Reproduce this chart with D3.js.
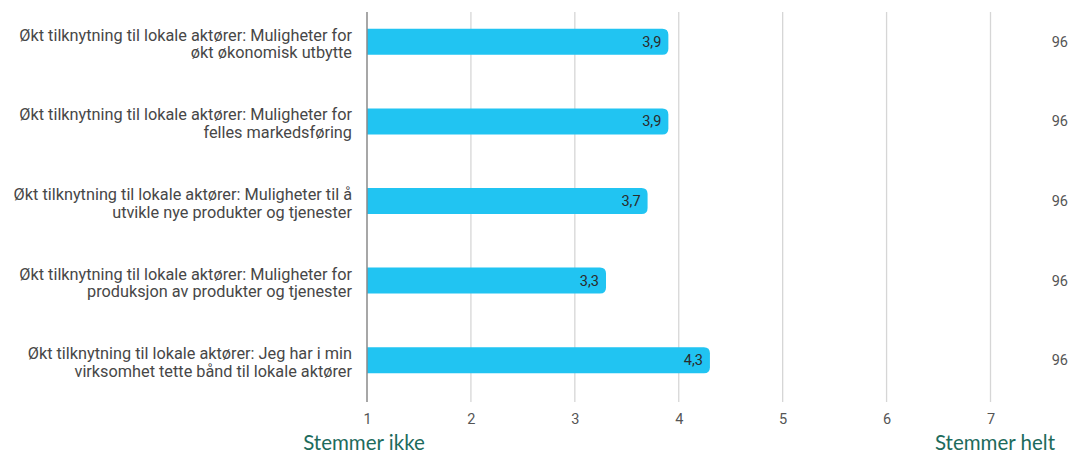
<!DOCTYPE html>
<html>
<head>
<meta charset="utf-8">
<script src="https://cdn.jsdelivr.net/npm/d3@7"></script>
<style>
  html, body { margin: 0; padding: 0; background: #fff; }
  svg { display: block; font-family: Roboto, "Noto Sans", sans-serif; }
</style>
</head>
<body>
<svg id="chart" width="1071" height="454"></svg>
<script>
// Statements (each split into two display lines), mean scores and respondent counts
const categories = [
  ["Økt tilknytning til lokale aktører: Muligheter for", "økt økonomisk utbytte"],
  ["Økt tilknytning til lokale aktører: Muligheter for", "felles markedsføring"],
  ["Økt tilknytning til lokale aktører: Muligheter til å", "utvikle nye produkter og tjenester"],
  ["Økt tilknytning til lokale aktører: Muligheter for", "produksjon av produkter og tjenester"],
  ["Økt tilknytning til lokale aktører: Jeg har i min", "virksomhet tette bånd til lokale aktører"]
];
const values = [3.9, 3.9, 3.7, 3.3, 4.3];
const counts = [96, 96, 96, 96, 96];
const ticks = [1, 2, 3, 4, 5, 6, 7];
const scaleLabels = ["Stemmer ikke", "Stemmer helt"];

const svg = d3.select("#chart");
const fmt = v => String(v).replace(".", ",");

const x = d3.scaleLinear().domain([1, 7]).range([367, 990.5]);
const y = d3.scaleBand().domain(d3.range(categories.length)).range([2, 400]);
const barH = 26;
const gridTop = 12, gridBottom = 402;

// vertical gridlines
svg.append("g").selectAll("line").data(ticks.slice(1)).join("line")
  .attr("x1", d => x(d)).attr("x2", d => x(d))
  .attr("y1", gridTop).attr("y2", gridBottom)
  .attr("stroke", "#d6d6d6").attr("stroke-width", 1.3);

// bottom axis with tick labels
const axis = svg.append("g").attr("transform", `translate(0,${gridBottom})`)
  .call(d3.axisBottom(x).tickValues(ticks).tickSize(0).tickPadding(11.5).tickFormat(d3.format("d")));
axis.select(".domain").remove();
axis.selectAll("text").attr("fill", "#555").attr("font-size", 14.5)
  .attr("font-family", "Roboto, 'Noto Sans', sans-serif");

// bars with rounded right ends
const barPath = (x0, x1, yc, h, r) => {
  const t = yc - h / 2, b = yc + h / 2;
  return `M${x0},${t}H${x1 - r}Q${x1},${t} ${x1},${t + r}V${b - r}Q${x1},${b} ${x1 - r},${b}H${x0}Z`;
};
svg.append("g").selectAll("path").data(values).join("path")
  .attr("d", (d, i) => barPath(x(1), x(d), y(i) + y.bandwidth() / 2, barH, 6))
  .attr("fill", "#21c4f2");

// value labels inside bar ends
svg.append("g").selectAll("text").data(values).join("text")
  .attr("x", d => x(d) - 7)
  .attr("y", (d, i) => y(i) + y.bandwidth() / 2 + 5)
  .attr("text-anchor", "end").attr("font-size", 14.5).attr("fill", "#2b2b2b")
  .text(fmt);

// left baseline
svg.append("line")
  .attr("x1", x(1)).attr("x2", x(1)).attr("y1", gridTop).attr("y2", gridBottom)
  .attr("stroke", "#8a8a8a").attr("stroke-width", 1.5);

// category labels
const labels = svg.append("g").selectAll("text").data(categories).join("text")
  .attr("text-anchor", "end").attr("font-size", 16.3).attr("fill", "#474747");
labels.each(function (lines, i) {
  const yc = y(i) + y.bandwidth() / 2;
  d3.select(this).selectAll("tspan").data(lines).join("tspan")
    .attr("x", 352)
    .attr("y", (l, j) => yc - 1 + j * 17.5)
    .text(l => l);
});

// respondent counts
svg.append("g").selectAll("text").data(counts).join("text")
  .attr("x", 1068).attr("y", (d, i) => y(i) + y.bandwidth() / 2 + 5)
  .attr("text-anchor", "end").attr("font-size", 14.5).attr("fill", "#555")
  .text(d => d);

// scale end labels
svg.append("text").attr("x", 364).attr("y", 450).attr("text-anchor", "middle")
  .attr("font-size", 20.5).attr("fill", "#1d6b5c")
  .attr("font-family", "Lato, 'Open Sans', sans-serif")
  .text(scaleLabels[0]);
svg.append("text").attr("x", 1055).attr("y", 450).attr("text-anchor", "end")
  .attr("font-size", 20.5).attr("fill", "#1d6b5c")
  .attr("font-family", "Lato, 'Open Sans', sans-serif")
  .text(scaleLabels[1]);
</script>
</body>
</html>
